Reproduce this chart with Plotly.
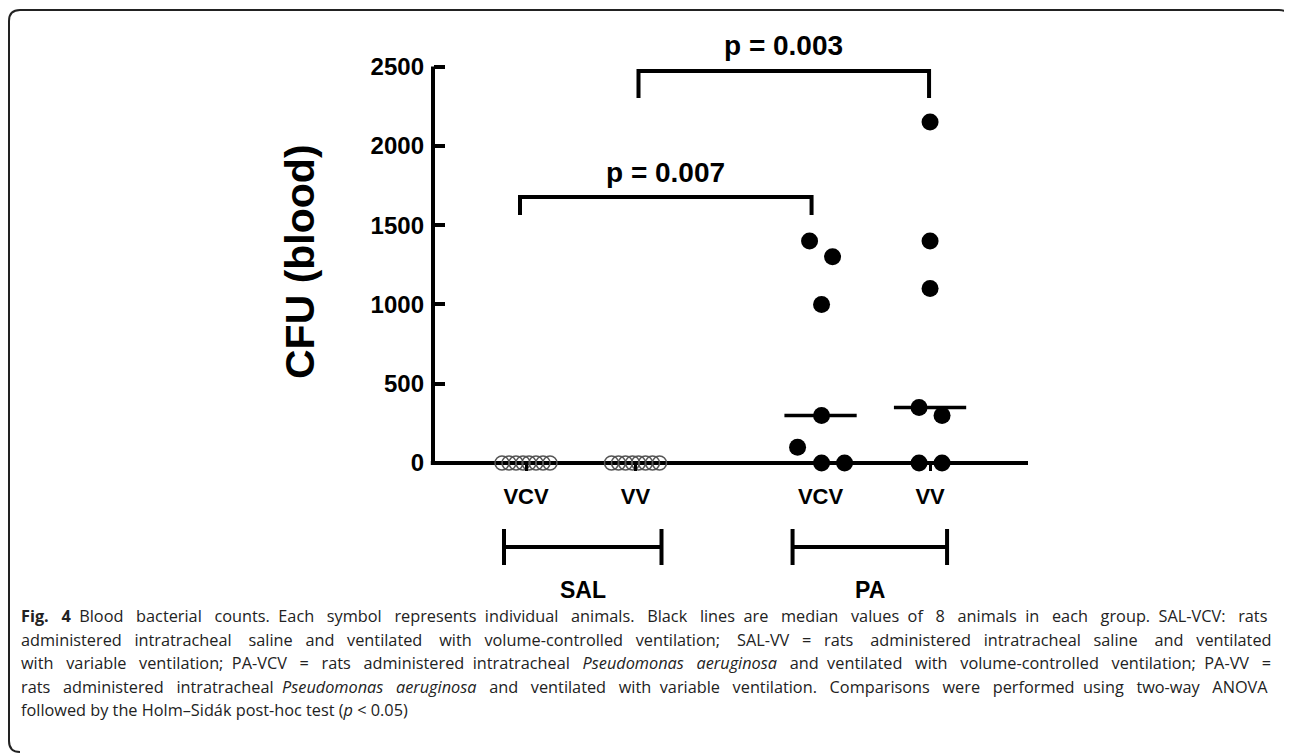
import plotly.graph_objects as go

# ---------------- data ----------------
groups = ["SAL", "PA"]
conditions = ["VCV", "VV"]
sal_vcv = [0, 0, 0, 0, 0, 0, 0, 0]
sal_vv = [0, 0, 0, 0, 0, 0, 0, 0]
pa_vcv = [1400, 1300, 1000, 300, 100, 0, 0]
pa_vv = [2150, 1400, 1100, 350, 300, 0, 0]
medians = [0, 0, 300, 350]
y_ticks = [0, 500, 1000, 1500, 2000, 2500]
p_labels = ["p = 0.007", "p = 0.003"]
y_title = "CFU (blood)"
caption_lines = [
    "<b>Fig. 4</b> Blood bacterial counts. Each symbol represents individual animals. Black lines are median values of 8 animals in each group. SAL-VCV: rats",
    "administered intratracheal saline and ventilated with volume-controlled ventilation; SAL-VV = rats administered intratracheal saline and ventilated",
    "with variable ventilation; PA-VCV = rats administered intratracheal <i>Pseudomonas aeruginosa</i> and ventilated with volume-controlled ventilation; PA-VV =",
    "rats administered intratracheal <i>Pseudomonas aeruginosa</i> and ventilated with variable ventilation. Comparisons were performed using two-way ANOVA",
    "followed by the Holm–Sidák post-hoc test (<i>p</i> < 0.05)",
]

# ---------------- layout helpers (page-pixel geometry) ----------------
PAGE_W, PAGE_H = 1292, 754
OFF = 8                      # default body margin of the html page
W, H = PAGE_W - OFF, PAGE_H - OFF
X0PX, XUNIT = 416.5, 109.5           # page pixel of x=0, pixels per x unit
Y0PX, YPIX500 = 463.0, 79.3          # page pixel of y=0, pixels per 500 units


def px2x(px):
    return (px - X0PX) / XUNIT


def py2y(py):
    return (Y0PX - py) * 500.0 / YPIX500


def fx(px):
    return (px - OFF) / W


def fy(py):
    return 1 - (py - OFF) / H


group_start = [1.0, 3.69]
positions = [group_start[g] + c for g in range(2) for c in range(2)]

sal_jit = [-24, -17, -10, -3, 3, 10, 17, 24]
pa_vcv_jit = [-11, 12, 1, 1, -23, 1, 24]
pa_vv_jit = [0, 0, 0, -11, 12, -11, 12]

series = [
    (sal_vcv, sal_jit, True),
    (sal_vv, sal_jit, True),
    (pa_vcv, pa_vcv_jit, False),
    (pa_vv, pa_vv_jit, False),
]

CHART_FONT = "Liberation Sans, Arial, sans-serif"

fig = go.Figure()

# axis lines (traces so they span only the data range)
xa_start, xa_end = px2x(433), px2x(1028)
fig.add_trace(go.Scatter(x=[xa_start, xa_start], y=[y_ticks[0], y_ticks[-1]], mode="lines",
                         line=dict(color="black", width=4), hoverinfo="skip", showlegend=False))
fig.add_trace(go.Scatter(x=[xa_start - 0.02, xa_end], y=[0, 0], mode="lines",
                         line=dict(color="black", width=4), hoverinfo="skip", showlegend=False))

for (vals, jit, hollow), pos in zip(series, positions):
    xs = [pos + j / XUNIT for j in jit[:len(vals)]]
    fig.add_trace(go.Scatter(
        x=xs, y=vals, mode="markers", showlegend=False, cliponaxis=False,
        marker=dict(
            size=14 if hollow else 17,
            color="rgba(255,255,255,0)" if hollow else "black",
            symbol="circle",
            line=dict(color="#555555" if hollow else "black", width=1.5 if hollow else 0),
        ),
    ))

# median lines
for m, pos in zip(medians, positions):
    if m > 0:
        fig.add_trace(go.Scatter(x=[pos - 0.33, pos + 0.33], y=[m, m], mode="lines",
                                 line=dict(color="black", width=3.5), showlegend=False,
                                 hoverinfo="skip"))

shapes = []
annotations = []

# significance brackets
sig = [
    (positions[0] - 6 / XUNIT, positions[2] - 9 / XUNIT, py2y(197), py2y(215), p_labels[0], py2y(172)),
    (positions[1] + 3 / XUNIT, positions[3] - 1 / XUNIT, py2y(71), py2y(98), p_labels[1], py2y(45)),
]
for xl, xr, yh, yl, lab, ty in sig:
    shapes.append(dict(type="path", xref="x", yref="y",
                       path=f"M {xl},{yl} L {xl},{yh} L {xr},{yh} L {xr},{yl}",
                       line=dict(color="black", width=4)))
    annotations.append(dict(x=(xl + xr) / 2, y=ty, xref="x", yref="y", text=f"<b>{lab}</b>",
                            showarrow=False, font=dict(family=CHART_FONT, size=28, color="black")))

# group brackets under the axis
gb = [
    (positions[0] - 22 / XUNIT, positions[1] + 26 / XUNIT),
    (positions[2] - 28 / XUNIT, positions[3] + 17 / XUNIT),
]
for (xl, xr), g in zip(gb, groups):
    yh, yt, yb = py2y(547), py2y(529), py2y(565)
    shapes.append(dict(type="line", xref="x", yref="y", x0=xl, x1=xr, y0=yh, y1=yh,
                       line=dict(color="black", width=4)))
    shapes.append(dict(type="line", xref="x", yref="y", x0=xl, x1=xl, y0=yt, y1=yb,
                       line=dict(color="black", width=4)))
    shapes.append(dict(type="line", xref="x", yref="y", x0=xr, x1=xr, y0=yt, y1=yb,
                       line=dict(color="black", width=4)))
    annotations.append(dict(x=(xl + xr) / 2, y=py2y(590), xref="x", yref="y", text=f"<b>{g}</b>",
                            showarrow=False, borderpad=0,
                            font=dict(family=CHART_FONT, size=23, color="black")))

# y-axis title
annotations.append(dict(x=px2x(300), y=py2y(262), xref="x", yref="y", text=f"<b>{y_title}</b>",
                        textangle=-90, showarrow=False,
                        font=dict(family=CHART_FONT, size=41, color="black")))

# frame around the figure panel
frame = (f"M {fx(20)},{fy(752)} Q {fx(9)},{fy(752)} {fx(9)},{fy(741)} "
         f"L {fx(9)},{fy(21)} Q {fx(9)},{fy(10)} {fx(20)},{fy(10)} "
         f"L {fx(1279)},{fy(10)} Q {fx(1290)},{fy(10)} {fx(1290)},{fy(21)} L {fx(1290)},{fy(28)}")
shapes.append(dict(type="path", xref="paper", yref="paper", path=frame,
                   line=dict(color="#222222", width=2)))

# caption: justified by spreading extra no-break spaces over the word gaps
CAP_SIZE = 16.3
SPACE_W = CAP_SIZE * 532 / 2048
natural_w = [1097, 1105, 1134, 1136, None]   # measured natural line widths (px)
LINE_W = 1252


def justify(line, nat):
    if nat is None:
        return line
    words = line.split(" ")
    gaps = len(words) - 1
    extra = int(round((LINE_W - nat) / SPACE_W))
    out = words[0]
    acc = 0.0
    for i, w in enumerate(words[1:]):
        target = extra * (i + 1) / gaps
        k = int(round(target - acc))
        acc += k
        out += " " + "\u00a0" * k + w
    return out


cap_y = [616, 639.5, 663, 686.5, 710]
for line, nat, cy in zip(caption_lines, natural_w, cap_y):
    annotations.append(dict(x=fx(20), y=fy(cy), xref="paper", yref="paper", xanchor="left",
                            yanchor="middle", text=justify(line, nat), showarrow=False, borderpad=0,
                            font=dict(family="Open Sans, Noto Sans, sans-serif", size=CAP_SIZE,
                                      color="#222222")))

fig.update_layout(
    width=W, height=H,
    margin=dict(l=0, r=0, t=0, b=0),
    paper_bgcolor="white", plot_bgcolor="white",
    showlegend=False,
    xaxis=dict(domain=[0, 1], range=[px2x(OFF), px2x(PAGE_W)], anchor="free", position=fy(Y0PX),
               showgrid=False, zeroline=False, showline=False,
               tickmode="array", tickvals=positions, ticktext=[f"<b>{c}</b>" for c in conditions * 2],
               ticks="outside", ticklen=7, tickwidth=3, tickcolor="black",
               ticklabelstandoff=7,
               tickfont=dict(family=CHART_FONT, size=22, color="black")),
    yaxis=dict(domain=[0, 1], range=[py2y(PAGE_H), py2y(OFF)], anchor="free", position=fx(433),
               showgrid=False, zeroline=False, showline=False,
               tickmode="array", tickvals=y_ticks, ticktext=[f"<b>{t}</b>" for t in y_ticks],
               ticks="inside", ticklen=11, tickwidth=3.5, tickcolor="black",
               ticklabelstandoff=9,
               tickfont=dict(family=CHART_FONT, size=24, color="black")),
    shapes=shapes,
    annotations=annotations,
)

fig.write_html("out.html")
